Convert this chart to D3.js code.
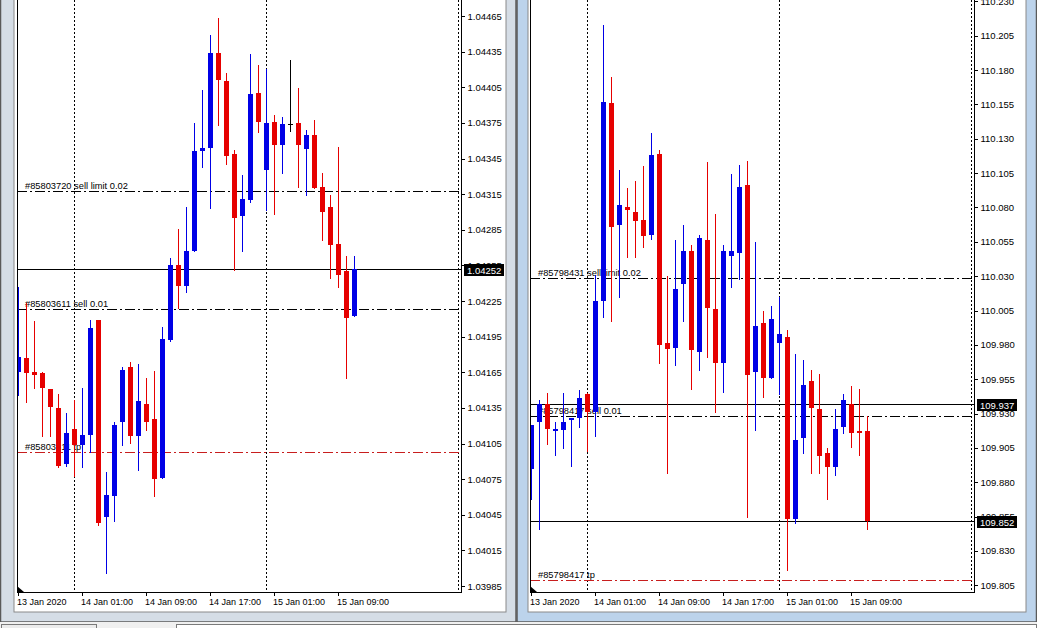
<!DOCTYPE html>
<html><head><meta charset="utf-8">
<script src="https://cdn.jsdelivr.net/npm/d3@7"></script>
<style>
html,body{margin:0;padding:0;background:#f0f0f0;overflow:hidden}
svg{display:block}
</style></head><body>
<svg id="c" width="1037" height="628"></svg>
<script>
// ---------- shared axis data ----------
const xLabels = ["13 Jan 2020","14 Jan 01:00","14 Jan 09:00","14 Jan 17:00","15 Jan 01:00","15 Jan 09:00"];
const xLabelIdx = [0, 8, 16, 24, 32, 40];
const separatorIdx = [7, 31, 55];

// ---------- left chart (EURCHF-like, H1) ----------
const leftOpen  = [1.04165,1.04177,1.04165,1.04164,1.04151,1.04135,1.04088,1.04117,1.04104,1.04112,1.04209,1.04043,1.04061,1.04123,1.04169,1.04111,1.04138,1.04126,1.04076,1.04192,1.04255,1.04238,1.04267,1.04351,1.04354,1.04434,1.04410,1.04349,1.04297,1.04310,1.04400,1.04335,1.04376,1.04356,1.04374,1.04375,1.04353,1.04365,1.04321,1.04304,1.04273,1.04250,1.04212];
const leftHigh  = [1.04237,1.04223,1.04208,1.04165,1.04151,1.04147,1.04131,1.04142,1.04152,1.04209,1.04209,1.04081,1.04123,1.04169,1.04174,1.04172,1.04160,1.04166,1.04203,1.04261,1.04286,1.04304,1.04375,1.04403,1.04449,1.04463,1.04417,1.04352,1.04331,1.04433,1.04424,1.04420,1.04382,1.04380,1.04428,1.04404,1.04369,1.04377,1.04333,1.04314,1.04355,1.04263,1.04263];
const leftLow   = [1.04146,1.04140,1.04152,1.04111,1.04111,1.04085,1.04086,1.04078,1.04085,1.04098,1.04036,1.03996,1.04040,1.04104,1.04105,1.04083,1.04116,1.04061,1.04076,1.04191,1.04219,1.04233,1.04267,1.04338,1.04303,1.04373,1.04340,1.04251,1.04267,1.04308,1.04367,1.04302,1.04298,1.04333,1.04368,1.04321,1.04314,1.04320,1.04276,1.04244,1.04237,1.04160,1.04212];
const leftClose = [1.04178,1.04164,1.04163,1.04152,1.04136,1.04086,1.04114,1.04104,1.04112,1.04202,1.04038,1.04062,1.04121,1.04167,1.04111,1.04141,1.04123,1.04075,1.04193,1.04255,1.04238,1.04267,1.04351,1.04354,1.04434,1.04411,1.04347,1.04295,1.04311,1.04399,1.04376,1.04375,1.04356,1.04374,1.04374,1.04356,1.04365,1.04320,1.04300,1.04272,1.04247,1.04211,1.04252];
const leftTicks = [1.04465,1.04435,1.04405,1.04375,1.04345,1.04315,1.04285,1.04255,1.04225,1.04195,1.04165,1.04135,1.04105,1.04075,1.04045,1.04015,1.03985];
const leftOrderLabels = ["#85803720 sell limit 0.02","#85803611 sell 0.01","#85803611 tp"];
const leftOrderPrices = [1.04318, 1.04218, 1.04098];
const leftOrderKinds  = ["order","order","tp"];
const leftPriceLines  = [1.04252];

// ---------- right chart (USDJPY-like, H1) ----------
const rightOpen  = [109.890,109.924,109.937,109.917,109.918,109.925,109.927,109.944,109.931,110.012,110.156,110.067,110.080,110.077,110.071,110.060,110.119,109.981,109.978,110.024,110.048,109.975,110.056,110.006,109.967,110.045,110.047,110.096,109.960,109.996,109.956,109.981,109.986,109.853,109.912,109.954,109.933,109.901,109.891,109.920,109.937,109.917,109.917];
const rightHigh  = [109.922,109.940,109.945,109.924,109.945,109.927,109.947,109.945,110.031,110.213,110.175,110.107,110.094,110.099,110.110,110.134,110.122,110.030,110.056,110.067,110.053,110.060,110.113,110.075,110.053,110.104,110.111,110.114,110.055,110.005,110.008,110.015,109.991,109.973,109.969,109.962,109.959,109.905,109.933,109.944,109.950,109.948,109.928];
const rightLow   = [109.868,109.846,109.908,109.900,109.905,109.892,109.920,109.903,109.914,110.000,109.997,110.015,110.044,110.044,110.051,110.057,109.967,109.887,109.965,109.997,109.948,109.962,109.971,109.931,109.946,110.022,110.028,109.855,109.918,109.942,109.956,109.944,109.816,109.850,109.901,109.887,109.887,109.868,109.885,109.916,109.906,109.900,109.846];
const rightClose = [109.922,109.937,109.919,109.919,109.924,109.927,109.941,109.931,110.012,110.157,110.066,110.082,110.078,110.070,110.059,110.118,109.980,109.977,110.021,110.048,109.976,110.058,110.007,109.967,110.048,110.048,110.095,109.958,109.994,109.956,109.999,109.988,109.853,109.911,109.951,109.934,109.899,109.891,109.919,109.940,109.916,109.916,109.852];
const rightTicks = [110.230,110.205,110.180,110.155,110.130,110.105,110.080,110.055,110.030,110.005,109.980,109.955,109.930,109.905,109.880,109.855,109.830,109.805];
const rightOrderLabels = ["#85798431 sell limit 0.02","#85798417 sell 0.01","#85798417 tp"];
const rightOrderPrices = [110.029, 109.928, 109.809];
const rightOrderKinds  = ["order","order","tp"];
const rightPriceLines  = [109.937, 109.852];

const svg = d3.select("#c");
const FONT = "'Liberation Sans', Arial, sans-serif";
const BULL = "#0000e6", BEAR = "#e60000";

// ---------- window chrome ----------
function chrome(x0, x1, cl, cr, frameFill) {
  svg.append("rect").attr("x", x0).attr("y", -5).attr("width", x1 - x0).attr("height", 627)
    .attr("fill", frameFill).attr("stroke", "#5a5a5a").attr("stroke-width", 1.5);
  svg.append("rect").attr("x", cl).attr("y", -5).attr("width", cr - cl).attr("height", 617)
    .attr("fill", "#ffffff").attr("stroke", "#8a8a8a").attr("stroke-width", 1);
}
chrome(0.5, 516, 14, 506, "#d5dde6");
chrome(517, 1036.5, 528, 1026, "#bcd3eb");
// tab strip
svg.append("rect").attr("x", 0).attr("y", 622).attr("width", 1037).attr("height", 6).attr("fill", "#f0f0f0");
svg.append("rect").attr("x", 1.5).attr("y", 624.5).attr("width", 95).attr("height", 8).attr("fill", "#ececec").attr("stroke", "#7a7a7a");
svg.append("rect").attr("x", 176.5).attr("y", 624.5).attr("width", 860).attr("height", 8).attr("fill", "#ffffff").attr("stroke", "#7a7a7a");

function drawChart(cfg) {
  const g = svg.append("g");
  const x = d3.scaleLinear().domain([0, 55]).range(cfg.xRange);
  const y = d3.scaleLinear().domain(cfg.yDomain).range(cfg.yRange);
  const px = i => Math.round(x(i));
  const clipId = "clip" + cfg.id;
  svg.append("clipPath").attr("id", clipId).append("rect")
    .attr("x", cfg.left + 1).attr("y", 0).attr("width", cfg.axis - cfg.left - 1).attr("height", cfg.bottom);

  // period separators
  g.selectAll(".sep").data(separatorIdx).enter().append("line")
    .attr("x1", d => px(d) + 0.5).attr("x2", d => px(d) + 0.5)
    .attr("y1", 0).attr("y2", cfg.bottom)
    .attr("stroke", "#000").attr("stroke-dasharray", "2,2").attr("shape-rendering", "crispEdges");

  // order lines + labels
  const inner = g.append("g").attr("clip-path", `url(#${clipId})`);
  cfg.orderPrices.forEach((p, i) => {
    const yy = Math.round(y(p)) + 0.5;
    const col = cfg.orderKinds[i] === "tp" ? "#c81e1e" : "#000";
    inner.append("line").attr("x1", cfg.left).attr("x2", cfg.axis).attr("y1", yy).attr("y2", yy)
      .attr("stroke", col).attr("stroke-dasharray", "10,3,2,3").attr("shape-rendering", "crispEdges");
    inner.append("text").attr("x", cfg.left + 8).attr("y", yy - 2.5).text(cfg.orderLabels[i])
      .attr("font-family", FONT).attr("font-size", 9.3).attr("fill", "#000");
  });
  // current price lines
  cfg.priceLines.forEach(p => {
    const yy = Math.round(y(p)) + 0.5;
    inner.append("line").attr("x1", cfg.left).attr("x2", cfg.axis).attr("y1", yy).attr("y2", yy)
      .attr("stroke", "#000").attr("shape-rendering", "crispEdges");
  });

  // candles
  const n = cfg.open.length;
  const idx = d3.range(n);
  const colorOf = i => cfg.close[i] > cfg.open[i] ? BULL : (cfg.close[i] < cfg.open[i] ? BEAR : "#000");
  inner.selectAll(".wick").data(idx).enter().append("line")
    .attr("x1", i => px(i) + 0.5).attr("x2", i => px(i) + 0.5)
    .attr("y1", i => Math.round(y(cfg.high[i]))).attr("y2", i => Math.round(y(cfg.low[i])) + 1)
    .attr("stroke", colorOf).attr("shape-rendering", "crispEdges");
  inner.selectAll(".body").data(idx).enter().append("rect")
    .attr("x", i => px(i) - 2).attr("width", 5)
    .attr("y", i => Math.round(y(Math.max(cfg.open[i], cfg.close[i]))))
    .attr("height", i => Math.max(1, Math.round(y(Math.min(cfg.open[i], cfg.close[i]))) - Math.round(y(Math.max(cfg.open[i], cfg.close[i])))))
    .attr("fill", colorOf).attr("shape-rendering", "crispEdges");

  // frame: left border, bottom, right axis
  g.append("line").attr("x1", cfg.left + 0.5).attr("x2", cfg.left + 0.5).attr("y1", 0).attr("y2", cfg.bottom + 1)
    .attr("stroke", "#000").attr("shape-rendering", "crispEdges");
  g.append("line").attr("x1", cfg.left).attr("x2", cfg.axis + 1).attr("y1", cfg.bottom + 0.5).attr("y2", cfg.bottom + 0.5)
    .attr("stroke", "#000").attr("shape-rendering", "crispEdges");
  g.append("line").attr("x1", cfg.axis + 0.5).attr("x2", cfg.axis + 0.5).attr("y1", 0).attr("y2", cfg.bottom + 1)
    .attr("stroke", "#000").attr("shape-rendering", "crispEdges");
  // shift marker triangle
  g.append("path").attr("d", `M${cfg.left},${cfg.bottom - 6} L${cfg.left + 7},${cfg.bottom} L${cfg.left},${cfg.bottom} Z`).attr("fill", "#000");

  // y axis
  const yAxis = d3.axisRight(y).tickValues(cfg.ticks).tickSize(3).tickPadding(3)
    .tickFormat(d3.format(cfg.fmt));
  const ya = g.append("g").attr("transform", `translate(${cfg.axis + 0.5},0)`).call(yAxis);
  ya.select(".domain").remove();
  ya.selectAll("line").attr("stroke", "#000").attr("shape-rendering", "crispEdges");
  ya.selectAll("text").attr("font-family", FONT).attr("font-size", 9.5).attr("fill", "#000");

  // x axis
  const xa = g.append("g");
  xa.selectAll("line").data(xLabelIdx).enter().append("line")
    .attr("x1", d => px(d) + 0.5).attr("x2", d => px(d) + 0.5)
    .attr("y1", cfg.bottom).attr("y2", cfg.bottom + 4).attr("stroke", "#000").attr("shape-rendering", "crispEdges");
  xa.selectAll("text").data(xLabelIdx).enter().append("text")
    .attr("x", d => px(d) - 1).attr("y", cfg.bottom + 13)
    .text((d, i) => xLabels[i])
    .attr("font-family", FONT).attr("font-size", 9).attr("fill", "#000");

  // price labels boxes
  cfg.priceLines.forEach(p => {
    const yy = Math.round(y(p));
    g.append("rect").attr("x", cfg.axis + 3).attr("y", yy - 5).attr("width", 40).attr("height", 12).attr("fill", "#000");
    g.append("text").attr("x", cfg.axis + 6).attr("y", yy + 4.5).text(d3.format(cfg.fmt)(p))
      .attr("font-family", FONT).attr("font-size", 9.5).attr("fill", "#fff");
  });
}

drawChart({
  id: "L", left: 17, axis: 461, bottom: 592,
  xRange: [18.3, 458.3], yDomain: [1.03985, 1.04465], yRange: [586, 16],
  open: leftOpen, high: leftHigh, low: leftLow, close: leftClose,
  ticks: leftTicks, fmt: ".5f",
  orderLabels: leftOrderLabels, orderPrices: leftOrderPrices, orderKinds: leftOrderKinds,
  priceLines: leftPriceLines
});
drawChart({
  id: "R", left: 530, axis: 974, bottom: 592,
  xRange: [531.3, 971.3], yDomain: [109.805, 110.205], yRange: [585.3, 35.7],
  open: rightOpen, high: rightHigh, low: rightLow, close: rightClose,
  ticks: rightTicks, fmt: ".3f",
  orderLabels: rightOrderLabels, orderPrices: rightOrderPrices, orderKinds: rightOrderKinds,
  priceLines: rightPriceLines
});
</script>
</body></html>
